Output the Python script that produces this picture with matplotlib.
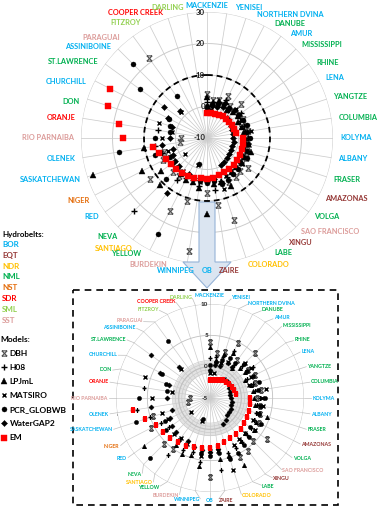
import numpy as np
import matplotlib
matplotlib.use('Agg')
import matplotlib.pyplot as plt
from matplotlib.path import Path
from matplotlib.patches import Polygon, Rectangle
from matplotlib.lines import Line2D
import matplotlib.transforms as mtrans

nan = np.nan
rivers = ["MACKENZIE", "YENISEI", "NORTHERN DVINA", "DANUBE", "AMUR", "MISSISSIPPI",
          "RHINE", "LENA", "YANGTZE", "COLUMBIA", "KOLYMA", "ALBANY", "FRASER",
          "AMAZONAS", "VOLGA", "SAO FRANCISCO", "XINGU", "LABE", "COLORADO", "ZAIRE",
          "OB", "WINNIPEG", "BURDEKIN", "YELLOW", "SANTIAGO", "NEVA", "RED", "NIGER",
          "SASKATCHEWAN", "OLENEK", "RIO PARNAIBA", "ORANJE", "DON", "CHURCHILL",
          "ST.LAWRENCE", "ASSINIBOINE", "PARAGUAI", "FITZROY", "COOPER CREEK", "DARLING"]
hydrobelt = ["BOR", "BOR", "BOR", "NML", "BOR", "NML", "NML", "BOR", "NML", "NML",
             "BOR", "BOR", "NML", "EQT", "NML", "SST", "EQT", "NML", "NDR", "EQT",
             "BOR", "BOR", "SST", "NML", "NDR", "NML", "BOR", "NST", "BOR", "BOR",
             "SST", "SDR", "NML", "BOR", "NML", "BOR", "SST", "SML", "SDR", "SML"]
belt_names = ["BOR", "EQT", "NDR", "NML", "NST", "SDR", "SML", "SST"]
belt_colors = {"BOR": "#00b0f0", "EQT": "#953735", "NDR": "#ffc000", "NML": "#00b050",
               "NST": "#e46c0a", "SDR": "#ff0000", "SML": "#92d050", "SST": "#dc9c9a"}

dbh = [3.9, 2.3, 2.8, 4.8, 2.4, 5.2, 2.5, 3.0, 2.6, 3.2,
       2.5, 3.0, 3.4, 3.8, 6.2, 4.7, 5.4, 5.6, 17.4, 11.4,
       7.6, 26.3, 11.0, 16.1, 5.0, 5.3, 12.2, 5.5, 4.5, -1.4,
       -1.8, nan, nan, nan, nan, nan, 21.4, nan, nan, nan]
h08 = [1.4, 1.6, 1.9, 3.5, 1.6, 2.2, 3.4, 1.7, 2.2, 2.3,
       2.9, 2.6, 2.8, 2.9, 3.1, 3.4, 3.6, 4.0, 4.3, 6.6,
       4.1, 5.3, 4.0, 4.4, 6.3, 22.7, 3.0, 3.8, 5.0, 6.8,
       nan, 5.6, nan, nan, nan, nan, nan, nan, nan, nan]
lpjml = [3.1, 1.2, 2.4, 3.0, 1.0, 1.7, 2.0, 1.2, 1.8, 1.9,
         2.0, 2.3, 4.6, 3.3, 3.6, 3.0, 3.4, 7.0, 4.8, 4.8,
         14.0, 6.0, 4.6, 5.0, 4.2, 11.3, 8.0, 13.0, 28.0, 10.3,
         nan, nan, nan, nan, nan, nan, nan, nan, nan, nan]
matsiro = [-1.0, -0.9, 0.9, 1.5, -1.2, 2.9, 3.1, 2.4, 1.5, 4.1,
           3.3, 3.5, 3.0, 2.7, 3.8, 2.8, 3.0, 3.5, 7.1, 3.6,
           3.4, 4.3, -1.1, 3.2, 2.9, 3.1, -1.2, 2.5, 3.0, nan,
           4.3, 1.2, 5.9, nan, nan, 1.6, nan, nan, nan, nan]
pcr = [0.2, 0.8, 1.3, 2.1, 1.9, 2.6, 2.2, 2.7, 3.3, 2.8,
       3.8, 3.1, 3.3, 4.1, 2.9, 3.9, 4.2, 4.9, 5.3, 3.9,
       4.3, 3.9, -1.4, 24.1, 3.3, 8.5, 3.6, 3.1, 7.5, 18.4,
       6.4, 1.9, 2.4, 3.6, 16.4, 23.1, 6.3, nan, nan, nan]
watergap = [-0.5, 0.3, 0.4, 1.2, 1.1, -1.2, -1.3, -1.6, -1.7, -1.8,
            -1.7, -1.4, -1.5, -1.3, -1.2, -1.1, -0.6, -0.4, 4.9, 3.2,
            3.6, 3.4, 3.2, 2.7, 11.7, 2.6, 2.5, 2.2, 1.4, 4.5,
            1.9, nan, 1.8, 3.9, 6.7, 2.1, nan, nan, nan, nan]
em = [-2.2, -2.1, -1.9, -1.7, -1.5, -1.4, -1.2, -1.1, -1.0, -0.8,
      1.4, 1.5, 1.55, 1.6, 1.7, 1.9, 2.1, 2.2, 2.3, 2.7,
      2.9, 3.0, 3.3, 3.6, 3.7, 4.0, 4.3, 4.6, 5.9, 7.5,
      16.6, 18.2, 22.9, 24.5, nan, nan, nan, nan, nan, nan]

model_names = ["DBH", "H08", "LPJmL", "MATSIRO", "PCR_GLOBWB", "WaterGAP2", "EM"]
model_values = [dbh, h08, lpjml, matsiro, pcr, watergap, em]

FONT = ['Lato', 'DejaVu Sans']
plt.rcParams['font.family'] = FONT

# label placement angles (degrees, clockwise from north) where Excel spreads the labels
label_angle = {"YENISEI": 12, "NORTHERN DVINA": 22, "DANUBE": 30.5, "AMUR": 38.5,
               "RHINE": 55.5, "XINGU": 142, "LABE": 149.5, "ZAIRE": 175,
               "WINNIPEG": 185.5, "BURDEKIN": 197.5, "YELLOW": 209.5, "SANTIAGO": 214,
               "NEVA": 222, "NIGER": 242, "SASKATCHEWAN": 252, "DON": 286,
               "CHURCHILL": 295, "ST.LAWRENCE": 305, "ASSINIBOINE": 313.5,
               "PARAGUAI": 319, "FITZROY": 330, "COOPER CREEK": 340.5, "DARLING": 350}

# DBH marker: X with top and bottom bars
dbh_marker = Path([(-1, -1), (1, 1), (-1, 1), (1, -1), (-1, 1), (1, 1), (-1, -1), (1, -1)],
                  [Path.MOVETO, Path.LINETO, Path.MOVETO, Path.LINETO,
                   Path.MOVETO, Path.LINETO, Path.MOVETO, Path.LINETO])

styles = [
    dict(marker=dbh_marker, mfc='none', mec='#505050', mew=0.8, ms=3.8),
    dict(marker='+', mec='black', mew=1.0, ms=4.0),
    dict(marker='^', mfc='black', mec='black', mew=0.3, ms=3.8),
    dict(marker='x', mec='black', mew=1.0, ms=3.4),
    dict(marker='o', mfc='black', mec='black', mew=0.3, ms=3.6),
    dict(marker='D', mfc='black', mec='black', mew=0.3, ms=3.1),
    dict(marker='s', mfc='#ff0000', mec='#ff0000', mew=0.3, ms=4.0),
]

W, H = 380, 507
fig = plt.figure(figsize=(W / 100, H / 100), dpi=100)

ovl = fig.add_axes([0, 0, 1, 1])
ovl.set_xlim(0, W)
ovl.set_ylim(H, 0)
ovl.axis('off')

theta = np.deg2rad(np.arange(len(rivers)) * 360.0 / len(rivers))
circ = np.linspace(0, 2 * np.pi, 721)
lab_theta = [np.deg2rad(label_angle.get(n, np.rad2deg(t))) for n, t in zip(rivers, theta)]


def polar_axes(cx, cy, r):
    ax = fig.add_axes([(cx - r) / W, (H - cy - r) / H, 2 * r / W, 2 * r / H],
                      projection='polar')
    ax.set_theta_zero_location('N')
    ax.set_theta_direction(-1)
    ax.axis('off')
    return ax


def halign(t):
    s = np.sin(t)
    if s > 0.08:
        return 'left'
    if s < -0.08:
        return 'right'
    return 'center'


# ---------------- top chart ----------------
axT = polar_axes(207, 138, 126)
rminT, rmaxT = -10, 30
axT.set_ylim(rminT, rmaxT)
for t in theta:
    axT.plot([t, t], [rminT, rmaxT], color='#cccccc', lw=0.55, zorder=1)
for v in [0, 10, 20, 30]:
    axT.plot(circ, np.full_like(circ, v), color='#cccccc', lw=0.7, zorder=1)
axT.plot(circ, np.full_like(circ, 10), color='black', lw=1.3, ls=(0, (3.2, 2.2)), zorder=3)

# arrow from top chart to zoomed chart
arrow = Polygon([(199, 202), (215, 202), (215, 262), (231, 262), (207, 288),
                 (183, 262), (199, 262)], closed=True, facecolor='#dbe5f1',
                edgecolor='#95b3d7', lw=0.8, transform=ovl.transData, zorder=2,
                clip_on=False)
axT.add_patch(arrow)

for vals, st in zip(model_values, styles):
    axT.plot(theta, vals, ls='none', zorder=5, clip_on=False, **st)

offT = mtrans.offset_copy(axT.transData, fig=fig, x=-2, y=0, units='dots')
for v in [-10, 0, 10, 20, 30]:
    axT.text(0, v, str(v), transform=offT, ha='right', va='center', fontsize=5.6,
             fontweight='bold', color='#222222', zorder=6)

for t, name, b in zip(lab_theta, rivers, hydrobelt):
    axT.text(t, 32.2, name, ha=halign(t), va='center', fontsize=5.3, fontweight='bold',
             color=belt_colors[b], clip_on=False, zorder=6)

# ---------------- zoomed chart ----------------
axB = polar_axes(210, 398, 94)
rminB, rmaxB = -5, 10
axB.set_ylim(rminB, rmaxB)
axB.fill_between(circ, -1.0, 1.0, color='#e3e3e3', lw=0, zorder=0.5)
for v in [-1.0, -0.5, 0.5, 1.0]:
    axB.plot(circ, np.full_like(circ, v), color='#c4c4c4', lw=0.4, zorder=1)
for t, lt in zip(theta, lab_theta):
    axB.plot([t, t], [rminB, rmaxB], color='#cccccc', lw=0.5, zorder=1)
    axB.plot([t, lt], [rmaxB, 11.15], color='#bfbfbf', lw=0.5, zorder=1, clip_on=False)
for v in [0, 5, 10]:
    axB.plot(circ, np.full_like(circ, v), color='#c0c0c0', lw=0.9 if v == 0 else 0.6, zorder=1)

for vals, st in zip(model_values, styles):
    s = dict(st)
    s['ms'] = st['ms'] * 0.85
    axB.plot(theta, vals, ls='none', zorder=5, clip_on=True, **s)

offB = mtrans.offset_copy(axB.transData, fig=fig, x=-2, y=0, units='dots')
for v in [-5, 0, 5, 10]:
    axB.text(0, v, str(v), transform=offB, ha='right', va='center', fontsize=4.6,
             fontweight='bold', color='#222222', zorder=6)

for t, name, b in zip(lab_theta, rivers, hydrobelt):
    axB.text(t, 11.35, name, ha=halign(t), va='center', fontsize=3.8, fontweight='bold',
             color=belt_colors[b], clip_on=False, zorder=6)

# dashed frame around zoomed chart
ovl.add_patch(Rectangle((73, 290), 265, 215, fill=False, edgecolor='black', lw=1.2,
                        ls=(0, (4, 3))))

# ---------------- legends ----------------
ovl.text(2, 234, "Hydrobelts:", ha='left', va='center', fontsize=5.8,
         fontweight='bold', color='black')
for i, b in enumerate(belt_names):
    ovl.text(2, 244.5 + 10.8 * i, b, ha='left', va='center', fontsize=5.8,
             fontweight='bold', color=belt_colors[b])

handles = [Line2D([], [], ls='none', **st) for st in styles]
leg = fig.legend(handles, model_names, title="Models:", loc='upper left',
                 bbox_to_anchor=(0.0, 1 - 335 / H), frameon=False,
                 prop=dict(family=FONT, weight='bold', size=6.0),
                 title_fontproperties=dict(family=FONT, weight='bold', size=6.0),
                 handlelength=0.7, handletextpad=0.35, labelspacing=0.85,
                 borderpad=0.1, borderaxespad=0, alignment='left')

fig.savefig('out.png', dpi=100)
